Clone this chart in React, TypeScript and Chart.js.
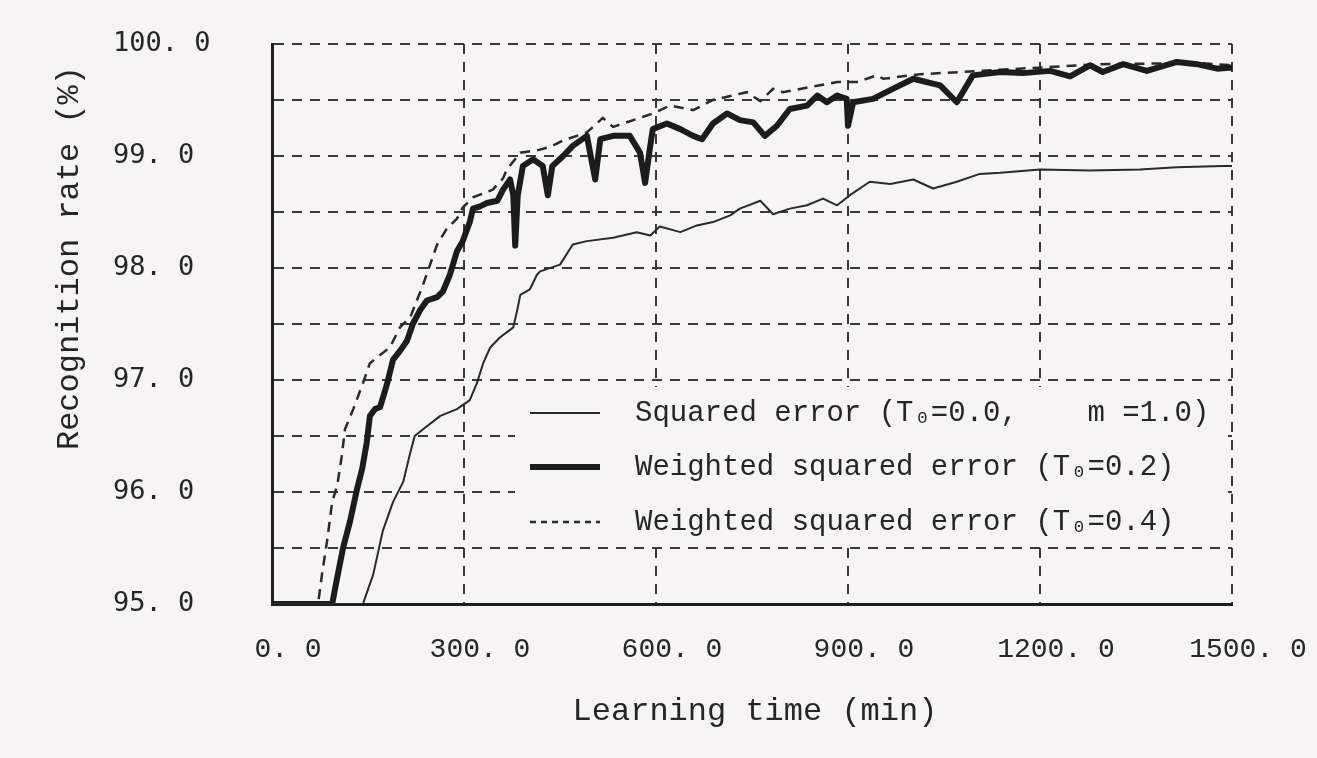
import React, { useEffect, useRef } from "react";
import { Chart, registerables } from "chart.js";

Chart.register(...registerables);

// ---------------- data ----------------
const seriesLabels = [
  "Squared error (T₀=0.0,    m =1.0)",
  "Weighted squared error (T₀=0.2)",
  "Weighted squared error (T₀=0.4)",
];

// Squared error (thin solid)
const squaredTime = [0, 142, 158, 173, 189, 205, 216, 223, 236, 263, 289, 309, 320, 330, 341, 356, 377, 383, 388, 403, 414, 419, 450, 470, 492, 533, 570, 591, 606, 638, 664, 689, 716, 731, 763, 783, 809, 836, 861, 883, 903, 934, 966, 1002, 1033, 1070, 1106, 1138, 1200, 1278, 1356, 1414, 1486, 1500];
const squaredRate = [95.0, 95.0, 95.26, 95.65, 95.91, 96.09, 96.35, 96.5, 96.56, 96.68, 96.74, 96.82, 96.97, 97.15, 97.29, 97.38, 97.47, 97.62, 97.76, 97.81, 97.94, 97.97, 98.03, 98.21, 98.24, 98.27, 98.32, 98.29, 98.37, 98.32, 98.38, 98.41, 98.47, 98.53, 98.6, 98.48, 98.53, 98.56, 98.62, 98.56, 98.65, 98.77, 98.75, 98.79, 98.71, 98.77, 98.84, 98.85, 98.88, 98.87, 98.88, 98.9, 98.91, 98.91];

// Weighted squared error T0=0.2 (thick solid)
const weighted02Time = [0, 94, 102, 111, 122, 133, 141, 148, 153, 161, 169, 180, 189, 200, 211, 220, 231, 242, 258, 267, 278, 289, 298, 309, 314, 325, 336, 352, 361, 372, 377, 380, 384, 392, 408, 423, 431, 438, 455, 470, 492, 505, 513, 533, 559, 575, 583, 591, 595, 617, 638, 658, 672, 689, 711, 731, 752, 770, 789, 809, 836, 852, 867, 883, 898, 900, 908, 939, 970, 1002, 1023, 1044, 1070, 1095, 1138, 1173, 1216, 1247, 1278, 1298, 1330, 1367, 1414, 1445, 1477, 1500];
const weighted02Rate = [95.0, 95.0, 95.24, 95.5, 95.74, 96.03, 96.21, 96.44, 96.68, 96.74, 96.76, 96.97, 97.18, 97.26, 97.35, 97.5, 97.62, 97.71, 97.74, 97.79, 97.94, 98.15, 98.24, 98.41, 98.53, 98.55, 98.58, 98.6, 98.7, 98.79, 98.65, 98.2, 98.65, 98.91, 98.97, 98.91, 98.65, 98.91, 99.0, 99.09, 99.18, 98.79, 99.15, 99.18, 99.18, 99.03, 98.76, 99.09, 99.24, 99.29, 99.24, 99.18, 99.15, 99.29, 99.38, 99.32, 99.3, 99.18, 99.27, 99.42, 99.45, 99.54, 99.48, 99.54, 99.51, 99.27, 99.48, 99.51, 99.6, 99.69, 99.66, 99.63, 99.48, 99.72, 99.75, 99.74, 99.76, 99.71, 99.81, 99.75, 99.82, 99.76, 99.84, 99.82, 99.78, 99.79];

// Weighted squared error T0=0.4 (dashed)
const weighted04Time = [0, 72, 78, 86, 94, 102, 109, 114, 127, 142, 153, 166, 184, 200, 216, 236, 247, 258, 273, 289, 298, 314, 345, 361, 367, 388, 414, 434, 455, 492, 517, 533, 580, 595, 622, 658, 689, 727, 742, 763, 783, 798, 883, 914, 945, 955, 1013, 1075, 1138, 1294, 1450, 1500];
const weighted04Rate = [95.0, 95.0, 95.26, 95.56, 95.91, 96.06, 96.32, 96.56, 96.74, 96.97, 97.15, 97.21, 97.29, 97.47, 97.56, 97.85, 98.03, 98.21, 98.35, 98.44, 98.54, 98.63, 98.7, 98.8, 98.88, 99.03, 99.05, 99.08, 99.14, 99.21, 99.34, 99.26, 99.35, 99.38, 99.45, 99.41, 99.5, 99.55, 99.57, 99.49, 99.6, 99.57, 99.66, 99.66, 99.72, 99.69, 99.73, 99.75, 99.77, 99.82, 99.83, 99.81];

const xTickValues = [0, 300, 600, 900, 1200, 1500];
const xTickLabels = ["0. 0", "300. 0", "600. 0", "900. 0", "1200. 0", "1500. 0"];
const yTickValues = [95, 95.5, 96, 96.5, 97, 97.5, 98, 98.5, 99, 99.5, 100];
const yTickLabels = ["95. 0", "", "96. 0", "", "97. 0", "", "98. 0", "", "99. 0", "", "100. 0"];

const xTitle = "Learning time (min)";
const yTitle = "Recognition rate (%)";

// ---------------- styles ----------------
const BG = "#f6f4f5";
const INK = "#262626";
const MONO = '"Liberation Mono", "DejaVu Sans Mono", monospace';
const MONO_SANS = '"DejaVu Sans Mono", "Liberation Mono", monospace';

const W = 1317;
const H = 758;

function zip(t: number[], r: number[]) {
  return t.map((x, i) => ({ x, y: r[i] }));
}

export default function App() {
  const ref = useRef<HTMLCanvasElement | null>(null);

  useEffect(() => {
    const canvas = ref.current;
    if (!canvas) return;

    const bgPlugin = {
      id: "bgFill",
      beforeDraw(chart: any) {
        const { ctx, width, height } = chart;
        ctx.save();
        ctx.fillStyle = BG;
        ctx.fillRect(0, 0, width, height);
        ctx.restore();
      },
    };

    const decorPlugin = {
      id: "decor",
      afterDraw(chart: any) {
        const ctx: CanvasRenderingContext2D = chart.ctx;
        // axis titles
        ctx.save();
        ctx.fillStyle = INK;
        ctx.font = `32px ${MONO}`;
        ctx.textAlign = "center";
        ctx.textBaseline = "middle";
        ctx.fillText(xTitle, 755, 712);
        ctx.translate(70, 258);
        ctx.rotate(-Math.PI / 2);
        ctx.fillText(yTitle, 0, 0);
        ctx.restore();

        // legend
        ctx.save();
        ctx.fillStyle = BG;
        ctx.fillRect(515, 387, 707, 153);
        const rows = [413, 467, 522];
        chart.data.datasets.forEach((ds: any, i: number) => {
          const y = rows[i];
          ctx.save();
          ctx.strokeStyle = ds.borderColor;
          ctx.lineWidth = ds.borderWidth;
          ctx.setLineDash(ds.borderDash && ds.borderDash.length ? [6, 5] : []);
          ctx.beginPath();
          ctx.moveTo(530, y);
          ctx.lineTo(600, y);
          ctx.stroke();
          ctx.restore();
          ctx.fillStyle = INK;
          ctx.font = `29px ${MONO}`;
          ctx.textAlign = "left";
          ctx.textBaseline = "middle";
          ctx.fillText(ds.label, 635, y);
        });
        ctx.restore();
      },
    };

    const chart = new Chart(canvas, {
      type: "line",
      data: {
        datasets: [
          {
            label: seriesLabels[0],
            data: zip(squaredTime, squaredRate),
            borderColor: "#2a2a2a",
            borderWidth: 2,
            pointRadius: 0,
            tension: 0,
            borderJoinStyle: "round",
          },
          {
            label: seriesLabels[1],
            data: zip(weighted02Time, weighted02Rate),
            borderColor: "#1c1c1c",
            borderWidth: 6,
            pointRadius: 0,
            tension: 0,
            borderJoinStyle: "round",
          },
          {
            label: seriesLabels[2],
            data: zip(weighted04Time, weighted04Rate),
            borderColor: "#2a2a2a",
            borderWidth: 2.5,
            borderDash: [10, 7],
            pointRadius: 0,
            tension: 0,
          },
        ],
      },
      options: {
        animation: false,
        responsive: false,
        devicePixelRatio: 1,
        layout: { padding: { left: 113, top: 44, right: 85, bottom: 0 } },
        plugins: {
          legend: { display: false },
          tooltip: { enabled: false },
          title: { display: false },
        },
        scales: {
          x: {
            type: "linear",
            min: 0,
            max: 1500,
            afterBuildTicks: (s: any) => {
              s.ticks = xTickValues.map((v) => ({ value: v }));
            },
            afterFit: (s: any) => {
              s.height = 154;
              s.paddingLeft = 0;
              s.paddingRight = 0;
            },
            grid: { color: "#3a3a3a", lineWidth: 2, drawTicks: false },
            border: { display: true, color: "#1e1e1e", width: 3, dash: [10, 8] },
            ticks: {
              autoSkip: false,
              maxRotation: 0,
              padding: 29,
              labelOffset: 16,
              color: INK,
              font: { family: MONO, size: 28 },
              callback: (_v: any, i: number) => xTickLabels[i],
            },
          },
          y: {
            type: "linear",
            min: 95,
            max: 100,
            afterBuildTicks: (s: any) => {
              s.ticks = yTickValues.map((v) => ({ value: v }));
            },
            afterFit: (s: any) => {
              s.width = 159;
              s.paddingTop = 0;
              s.paddingBottom = 0;
            },
            grid: { color: "#3a3a3a", lineWidth: 2, drawTicks: false },
            border: { display: true, color: "#1e1e1e", width: 3, dash: [10, 8] },
            ticks: {
              autoSkip: false,
              crossAlign: "far",
              color: INK,
              font: { family: MONO_SANS, size: 27 },
              callback: (_v: any, i: number) => yTickLabels[i],
            },
          },
        },
      } as any,
      plugins: [bgPlugin, decorPlugin],
    });

    return () => {
      chart.destroy();
    };
  }, []);

  return (
    <div style={{ position: "fixed", left: 0, top: 0, width: W, height: H, background: BG }}>
      <canvas ref={ref} width={W} height={H} style={{ display: "block", width: W, height: H }} />
    </div>
  );
}
